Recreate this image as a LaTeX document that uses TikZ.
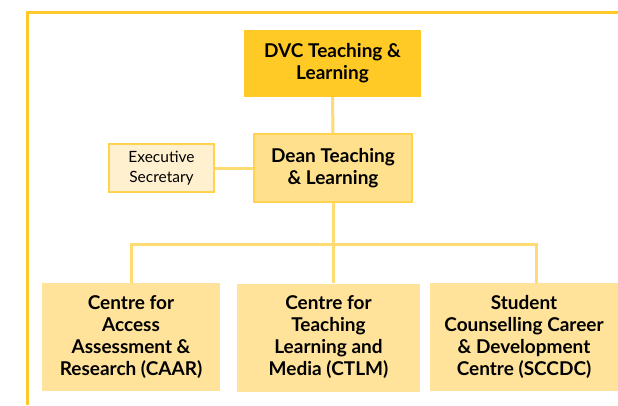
\documentclass[tikz,border=0pt]{standalone}
\usepackage{fontspec}
\setmainfont{Lato}
\usepackage{xcolor}
\usetikzlibrary{positioning}

\definecolor{framegold}{HTML}{FFC929}
\definecolor{dvcgold}{HTML}{FFCA26}
\definecolor{deanfill}{HTML}{FFE08C}
\definecolor{deanedge}{HTML}{FFD34D}
\definecolor{secfill}{HTML}{FFF0CF}
\definecolor{unitfill}{HTML}{FFE39B}
\definecolor{linkgold}{HTML}{FFDB73}

\begin{document}
\begin{tikzpicture}[
    x=1pt, y=-1pt,
    box/.style={inner sep=0pt, align=center, text=black, font=\bfseries\fontsize{19}{22}\selectfont},
    dvcbox/.style={box, fill=dvcgold, minimum width=177pt, minimum height=67pt},
    deanbox/.style={box, fill=deanfill, draw=deanedge, line width=1.8pt, minimum width=158pt, minimum height=68pt},
    secbox/.style={box, fill=secfill, draw=deanedge, line width=1.5pt, minimum width=105pt, minimum height=48pt, font=\fontsize{15.5}{20}\selectfont},
    unitbox/.style={box, fill=unitfill, minimum height=108pt},
    link/.style={draw=linkgold, line width=3pt}
]
\useasboundingbox (0,0) rectangle (618,405);
% outer frame, open to the right and bottom
\draw[framegold, line width=2.5pt] (27.5,405) |- (618,12.5);

\node[dvcbox] (dvc) at (332.5,63.5) {DVC Teaching \&\\Learning};
\node[deanbox] (dean) at (333,168) {Dean Teaching\\\& Learning};
\node[secbox] (sec) at (161.5,168) {Executive\\Secretary};
\node[unitbox, minimum width=178pt] (caar) at (131,337) {Centre for\\Access\\Assessment \&\\Research (CAAR)};
\node[unitbox, minimum width=183pt] (ctlm) at (328.5,337.5) {Centre for\\Teaching\\Learning and\\Media (CTLM)};
\node[unitbox, minimum width=188pt] (sccdc) at (524,337) {Student\\Counselling Career\\\& Development\\Centre (SCCDC)};
\coordinate (bus) at (333,244);

\draw[link] (dvc) -- (dean);
\draw[link] (sec) -- (dean);
\draw[link] (dean.south) -- (bus) -- (bus |- ctlm.north);
\draw[link] (caar.north) |- (bus) -| ([xshift=12]sccdc.north);
\end{tikzpicture}
\end{document}
